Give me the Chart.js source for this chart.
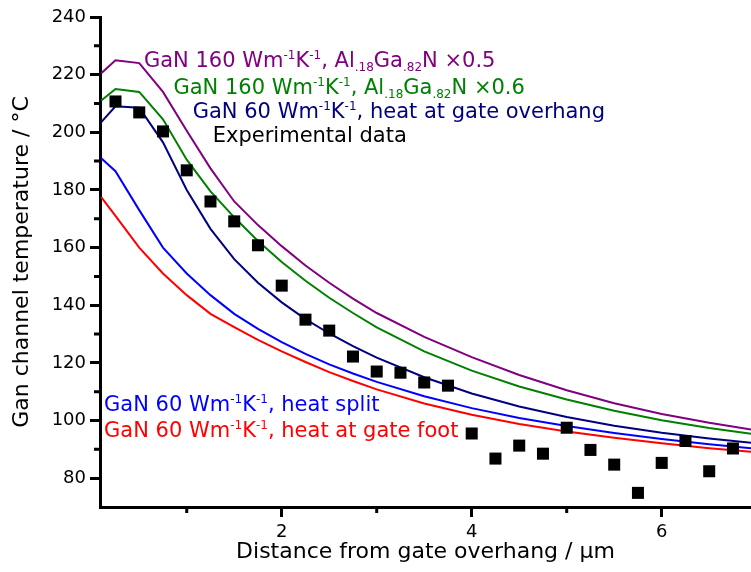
<!DOCTYPE html>
<html>
<head>
<meta charset="utf-8">
<script src="https://cdn.jsdelivr.net/npm/chart.js@4"></script>
<style>
  body { margin: 0; background: #fff; }
  #wrap { width: 751px; height: 572px; }
</style>
</head>
<body>
<div id="wrap"><canvas id="myChart" width="751" height="572"></canvas></div>
<script>
// model x positions (um from gate overhang)
const modelX = [0.1, 0.25, 0.5, 0.75, 1.0, 1.25, 1.5, 1.75, 2.0, 2.25, 2.5, 2.75, 3.0, 3.5, 4.0, 4.5, 5.0, 5.5, 6.0, 6.5, 7.0];

const algan05 = [220.5, 225, 224, 214, 200.5, 187.5, 176, 167.8, 160.5, 153.8, 147.8, 142.3, 137.3, 129, 122, 115.8, 110.5, 106, 102.3, 99.2, 96.6];
const algan06 = [211, 215, 214, 204.5, 190.5, 179.5, 170.5, 162.3, 155, 148.5, 142.6, 137.3, 132.3, 124, 117.3, 111.8, 107.3, 103.4, 100.1, 97.4, 95.1];
const overhang = [203.5, 209, 208.5, 196.5, 180, 166.5, 156, 147.8, 141, 135.2, 130.2, 125.8, 121.8, 115, 109.4, 104.9, 101.2, 98.2, 95.8, 93.8, 92.1];
const split = [191, 186.5, 173, 160, 151, 143.5, 137, 131.8, 127.2, 123.1, 119.5, 116.3, 113.4, 108.4, 104.3, 100.9, 98.1, 95.7, 93.6, 91.8, 90.2];
const gateFoot = [177.5, 171, 160, 151, 143.5, 137, 132.4, 128, 124, 120.3, 116.8, 113.7, 110.8, 105.9, 102, 98.8, 96.2, 94, 92.1, 90.4, 89];

// measured points
const expX = [0.25, 0.5, 0.75, 1.0, 1.25, 1.5, 1.75, 2.0, 2.25, 2.5, 2.75, 3.0, 3.25, 3.5, 3.75, 4.0, 4.25, 4.5, 4.75, 5.0, 5.25, 5.5, 5.75, 6.0, 6.25, 6.5, 6.75];
const expT = [210.7, 206.9, 200.3, 186.8, 176.0, 169.1, 160.8, 146.8, 135.0, 131.2, 122.2, 117.0, 116.6, 113.2, 112.1, 95.5, 86.8, 91.3, 88.5, 97.5, 89.8, 84.7, 74.9, 85.3, 92.9, 82.4, 90.3];

const yMinorTicks = [90, 110, 130, 150, 170, 190, 210, 230];
const xMinorTicks = [1, 3, 5];

function pts(xs, ys) {
  return xs.map((x, i) => ({x: x, y: ys[i]}));
}

function curve(data, color) {
  return {
    data: data,
    showLine: true,
    borderColor: color,
    backgroundColor: color,
    borderWidth: 2,
    pointRadius: 0,
    tension: 0,
    order: 2
  };
}

// text labels: [text, 'n' | 'sup' | 'sub'], anchored at (x, y) in data units
const labels = [
  {x: 0.55, y: 222.6, color: '#800080', parts: [['GaN 160 Wm', 'n'], ['-1', 'sup'], ['K', 'n'], ['-1', 'sup'], [', Al', 'n'], ['.18', 'sub'], ['Ga', 'n'], ['.82', 'sub'], ['N \u00d70.5', 'n']]},
  {x: 0.86, y: 213.4, color: '#008000', parts: [['GaN 160 Wm', 'n'], ['-1', 'sup'], ['K', 'n'], ['-1', 'sup'], [', Al', 'n'], ['.18', 'sub'], ['Ga', 'n'], ['.82', 'sub'], ['N \u00d70.6', 'n']]},
  {x: 1.063, y: 205.1, color: '#000080', parts: [['GaN 60 Wm', 'n'], ['-1', 'sup'], ['K', 'n'], ['-1', 'sup'], [', heat at gate overhang', 'n']]},
  {x: 1.274, y: 196.6, color: '#000000', parts: [['Experimental data', 'n']]},
  {x: 0.13, y: 103.2, color: '#0000ff', parts: [['GaN 60 Wm', 'n'], ['-1', 'sup'], ['K', 'n'], ['-1', 'sup'], [', heat split', 'n']]},
  {x: 0.13, y: 94.2, color: '#ff0000', parts: [['GaN 60 Wm', 'n'], ['-1', 'sup'], ['K', 'n'], ['-1', 'sup'], [', heat at gate foot', 'n']]}
];

const FONT = '"DejaVu Sans", sans-serif';

const richLabels = {
  id: 'richLabels',
  afterDatasetsDraw(chart) {
    const c = chart.ctx;
    const xs = chart.scales.x, ys = chart.scales.y;
    c.save();
    c.textBaseline = 'alphabetic';
    labels.forEach(l => {
      let px = xs.getPixelForValue(l.x);
      const py = ys.getPixelForValue(l.y);
      c.fillStyle = l.color;
      l.parts.forEach(([t, mode]) => {
        let dy = 0;
        if (mode === 'n') c.font = '21px ' + FONT;
        else c.font = '12px ' + FONT;
        if (mode === 'sup') dy = -8;
        if (mode === 'sub') dy = 4;
        c.fillText(t, px, py + dy);
        px += c.measureText(t).width;
      });
    });
    c.restore();
  }
};

// short ticks between the labelled ones
const minorTicks = {
  id: 'minorTicks',
  afterDraw(chart) {
    const c = chart.ctx;
    const xs = chart.scales.x, ys = chart.scales.y;
    const a = chart.chartArea;
    c.save();
    c.strokeStyle = '#000';
    c.lineWidth = 3;
    c.beginPath();
    yMinorTicks.forEach(v => {
      const py = ys.getPixelForValue(v);
      c.moveTo(a.left - 6, py);
      c.lineTo(a.left, py);
    });
    xMinorTicks.forEach(v => {
      const px = xs.getPixelForValue(v);
      c.moveTo(px, a.bottom);
      c.lineTo(px, a.bottom + 6);
    });
    c.stroke();
    c.restore();
  }
};

let ctx = document.querySelector('#myChart');

const chart = new Chart(ctx, {
  type: 'scatter',
  data: {
    datasets: [
      {
        data: pts(expX, expT),
        pointStyle: 'rect',
        pointRadius: 8.5,
        pointBorderWidth: 0,
        backgroundColor: '#000',
        borderColor: '#000',
        order: 1
      },
      curve(pts(modelX, algan05), '#800080'),
      curve(pts(modelX, algan06), '#008000'),
      curve(pts(modelX, overhang), '#000080'),
      curve(pts(modelX, split), '#0000ff'),
      curve(pts(modelX, gateFoot), '#ff0000')
    ]
  },
  options: {
    responsive: false,
    animation: false,
    layout: { autoPadding: false, padding: { top: 17, right: 0, left: 0, bottom: 0 } },
    plugins: {
      legend: { display: false },
      tooltip: { enabled: false }
    },
    scales: {
      x: {
        type: 'linear',
        min: 0.087,
        max: 6.94,
        afterFit: s => { s.height = 65; s.paddingLeft = 0; s.paddingRight = 0; },
        border: { display: true, color: '#000', width: 3 },
        grid: { drawOnChartArea: false, drawTicks: true, tickLength: 10, tickWidth: 3, tickColor: '#000' },
        ticks: {
          stepSize: 2,
          includeBounds: false,
          color: '#000',
          padding: 5,
          font: { family: FONT, size: 18 },
          maxRotation: 0
        },
        title: {
          display: true,
          text: 'Distance from gate overhang / \u00b5m',
          color: '#000',
          font: { family: FONT, size: 22 },
          padding: { top: 0, bottom: 7 }
        }
      },
      y: {
        min: 70,
        max: 240,
        afterFit: s => { s.width = 100; s.paddingTop = 0; s.paddingBottom = 0; },
        border: { display: true, color: '#000', width: 3 },
        grid: { drawOnChartArea: false, drawTicks: true, tickLength: 10, tickWidth: 3, tickColor: '#000' },
        ticks: {
          stepSize: 20,
          includeBounds: false,
          color: '#000',
          padding: 4,
          font: { family: FONT, size: 18 }
        },
        title: {
          display: true,
          text: 'Gan channel temperature / \u00b0C',
          color: '#000',
          font: { family: FONT, size: 22 },
          padding: { top: 9, bottom: 0 }
        }
      }
    }
  },
  plugins: [richLabels, minorTicks]
});
</script>
</body>
</html>
